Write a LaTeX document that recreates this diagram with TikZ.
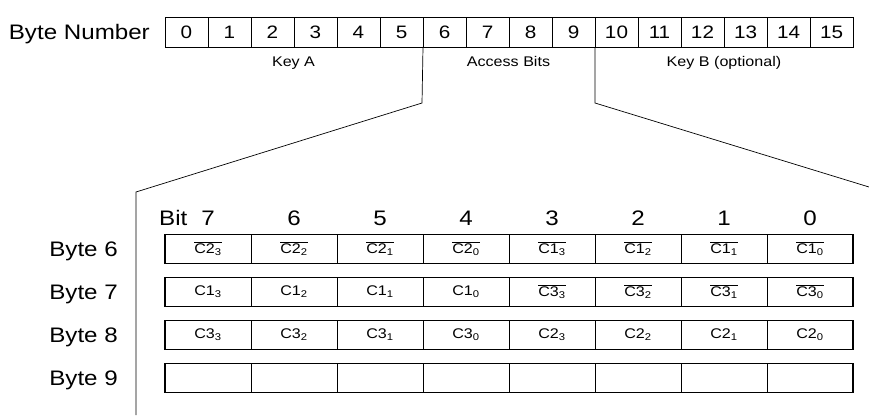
\documentclass[tikz,border=0pt]{standalone}
\usepackage{fontspec}
\setmainfont[FakeStretch=1.15]{Liberation Sans}
\newcommand{\cn}[2]{C#1\textsubscript{#2}}
\newcommand{\cbar}[2]{$\overline{\hbox{C#1\textsubscript{#2}}}$}
\begin{document}
\begin{tikzpicture}[x=1pt,y=-1pt,
  numbox/.style={draw=black,line width=0.8pt,minimum width=43pt,minimum height=30pt,inner sep=0pt,outer sep=0pt,font=\fontsize{18}{20}\selectfont},
  bitbox/.style={draw=black,line width=0.8pt,minimum width=86pt,minimum height=29pt,inner sep=0pt,outer sep=0pt,font=\fontsize{14}{16}\selectfont},
  rowframe/.style={draw=black,line width=1.3pt},
  fold/.style={draw=black,line width=0.7pt},
  bigtext/.style={font=\fontsize{21}{24}\selectfont,inner sep=0pt},
  smalltext/.style={font=\fontsize{14}{16}\selectfont,inner sep=0pt}]
\useasboundingbox (0,0) rectangle (869,415);
% byte numbers of the sector trailer
\node[bigtext,anchor=base east] (bytenum) at (150,39) {Byte Number};
\foreach \i in {0,...,15}
  \node[numbox] (b\i) at (186.5+43*\i,32) {\i};
\node[smalltext,anchor=base] (keya) at (293.5,66) {Key A};
\node[smalltext,anchor=base] (access) at (508.5,66) {Access Bits};
\node[smalltext,anchor=base] (keyb) at (724,66) {Key B (optional)};
% zoom into the access bits
\coordinate (lfold) at (422,103);
\coordinate (lcorner) at (136,192);
\coordinate (lend) at (136,415);
\coordinate (rfold) at (595,103);
\coordinate (rend) at (869,187);
\draw[fold] (b5.south east) -- (lfold) -- (lcorner) -- (lend);
\draw[fold] (b9.south east) -- (rfold) -- (rend);
% bit positions
\node[bigtext,anchor=base west] (bitlbl) at (159,225) {Bit};
\foreach \k [evaluate=\k as \b using int(7-\k)] in {0,...,7}
  \node[bigtext,anchor=base] (bit\k) at (208+86*\k,225) {\b};
% byte labels
\foreach \r [count=\k from 0] in {6,7,8,9}
  \node[bigtext,anchor=base east] (byte\r) at (118,256+43*\k) {Byte \r};
% byte 6
\foreach \t [count=\k from 0] in {\cbar{2}{3},\cbar{2}{2},\cbar{2}{1},\cbar{2}{0},\cbar{1}{3},\cbar{1}{2},\cbar{1}{1},\cbar{1}{0}}
  \node[bitbox] (r6c\k) at (208+86*\k,249) {\t};
% byte 7
\foreach \t [count=\k from 0] in {\cn{1}{3},\cn{1}{2},\cn{1}{1},\cn{1}{0},\cbar{3}{3},\cbar{3}{2},\cbar{3}{1},\cbar{3}{0}}
  \node[bitbox] (r7c\k) at (208+86*\k,292) {\t};
% byte 8
\foreach \t [count=\k from 0] in {\cn{3}{3},\cn{3}{2},\cn{3}{1},\cn{3}{0},\cn{2}{3},\cn{2}{2},\cn{2}{1},\cn{2}{0}}
  \node[bitbox] (r8c\k) at (208+86*\k,335) {\t};
% byte 9
\foreach \k in {0,...,7}
  \node[bitbox] (r9c\k) at (208+86*\k,378) {};
\foreach \r in {6,7,8,9}
  \draw[rowframe] (r\r c0.north west) rectangle (r\r c7.south east);
\end{tikzpicture}
\end{document}
